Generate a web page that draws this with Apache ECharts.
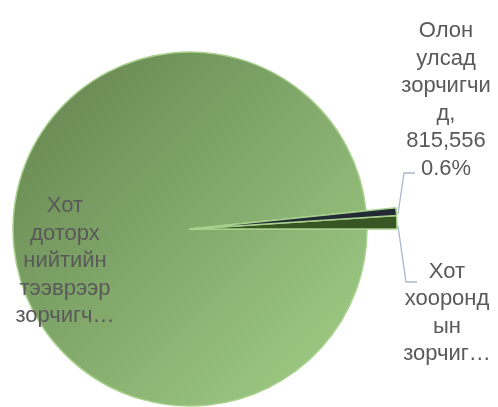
<!DOCTYPE html>
<html>
<head>
<meta charset="utf-8">
<script src="https://cdn.jsdelivr.net/npm/echarts@6/dist/echarts.min.js"></script>
<style>
html,body{margin:0;padding:0;background:#fff;}
#c{width:498px;height:407px;}
</style>
</head>
<body>
<div id="c"></div>
<script>
// Data
var categories = ['Хот хоорондын зорчигчид', 'Олон улсад зорчигчид', 'Хот доторх нийтийн тээврээр зорчигчид'];
var values = [1400000, 815556, 133700000];
var labelTexts = ['Хот\nхооронд\nын\nзорчиг…', 'Олон\nулсад\nзорчигчи\nд,', 'Хот\nдоторх\nнийтийн\nтээврээр\nзорчигч…'];
var showValue = [false, true, false];
var sliceColors = ['#375623', '#222a35', null];

var chart = echarts.init(document.getElementById('c'));
var bigGrad = new echarts.graphic.LinearGradient(0, 0, 1, 1, [
  {offset: 0, color: '#62824d'},
  {offset: 1, color: '#a4d18a'}
]);
var transparent = 'rgba(0,0,0,0)';

function fmt(p) {
  var t = labelTexts[p.dataIndex];
  if (showValue[p.dataIndex]) {
    t += '\n' + p.value.toLocaleString('en-US') + '\n' + p.percent.toFixed(1) + '%';
  }
  return t;
}

var labelPos = {
  0: {x: 447, y: 313, pts: [[398, 226], [406, 282], [417, 282]]},
  1: {x: 446, y: 100, pts: [[398, 214], [404, 173], [415, 173]]},
  2: {x: 65, y: 261}
};

var baseLabel = {
  fontFamily: 'Liberation Sans, Arial, sans-serif',
  fontSize: 22,
  lineHeight: 27.5,
  color: '#595959',
  align: 'center',
  overflow: 'none',
  width: null,
  formatter: fmt
};

var bigData = categories.map(function (c, i) {
  var isBig = i === 2;
  return {
    name: c, value: values[i],
    itemStyle: isBig ? {color: bigGrad, borderColor: '#a9d18e', borderWidth: 1.5} : {color: transparent, borderWidth: 0},
    label: {show: isBig}
  };
});
var smallData = categories.map(function (c, i) {
  var isBig = i === 2;
  return {
    name: c, value: values[i],
    itemStyle: isBig ? {color: transparent, borderWidth: 0} : {color: sliceColors[i], borderColor: '#a9d18e', borderWidth: 1.5},
    label: {show: !isBig},
    labelLine: {show: !isBig}
  };
});

chart.setOption({
  animation: false,
  series: [
    {
      type: 'pie',
      center: [190, 229],
      radius: [0, 177],
      startAngle: 0,
      clockwise: false,
      percentPrecision: 1,
      silent: true,
      data: bigData,
      label: Object.assign({position: 'inside'}, baseLabel),
      labelLine: {show: false},
      labelLayout: function (p) {
        var lp = labelPos[p.dataIndex];
        return {x: lp.x, y: lp.y, align: 'center', verticalAlign: 'middle'};
      }
    },
    {
      type: 'pie',
      center: [190, 229],
      radius: [0, 207],
      startAngle: 0,
      clockwise: false,
      percentPrecision: 1,
      silent: true,
      data: smallData,
      label: Object.assign({position: 'outside', edgeDistance: 0, bleedMargin: 0}, baseLabel),
      labelLine: {show: true, lineStyle: {color: '#a9b8cc', width: 1.3}},
      labelLayout: function (p) {
        var lp = labelPos[p.dataIndex];
        var r = {x: lp.x, y: lp.y, align: 'center', verticalAlign: 'middle'};
        if (lp.pts) r.labelLinePoints = lp.pts;
        return r;
      }
    }
  ]
});
</script>
</body>
</html>
